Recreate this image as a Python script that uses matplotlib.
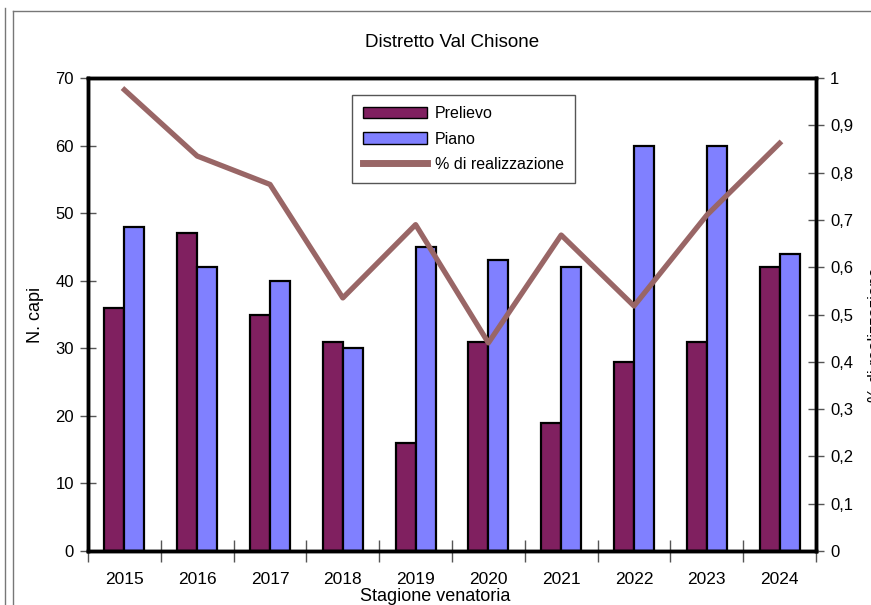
import numpy as np
import matplotlib
matplotlib.use('Agg')
import matplotlib.pyplot as plt
from matplotlib.patches import Patch
from matplotlib.lines import Line2D

plt.rcParams['font.family'] = ['Liberation Sans', 'DejaVu Sans']

anni = ['2015', '2016', '2017', '2018', '2019', '2020', '2021', '2022', '2023', '2024']
prelievo = [36, 47, 35, 31, 16, 31, 19, 28, 31, 42]
piano = [48, 42, 40, 30, 45, 43, 42, 60, 60, 44]
realizzazione = [0.975, 0.835, 0.775, 0.535, 0.69, 0.44, 0.668, 0.518, 0.71, 0.862]

c_prel = '#802060'
c_piano = '#8080FF'
c_line = '#996666'

fig = plt.figure(figsize=(8.71, 6.05), dpi=100)
ax = fig.add_axes([88/871, 1-551/605, (816-88)/871, (551-78)/605])
x = np.arange(len(anni))
w = 0.275

ax.bar(x - w/2, prelievo, w, color=c_prel, edgecolor='black', linewidth=1.6, zorder=2)
ax.bar(x + w/2, piano, w, color=c_piano, edgecolor='black', linewidth=1.6, zorder=2)

ax.set_xlim(-0.5, len(anni) - 0.5)
ax.set_ylim(0, 70)
ax.set_yticks(range(0, 71, 10))
ax.set_xticks(np.arange(-0.5, len(anni), 1))
ax.set_xticklabels([])
ax.set_xticks(x, minor=True)
ax.set_xticklabels(anni, minor=True)
ax.tick_params(axis='x', which='major', direction='inout', length=16, color='#555555', width=1)
ax.tick_params(axis='x', which='minor', length=0, pad=15, labelsize=12.5)
ax.tick_params(axis='y', direction='inout', length=12, color='#555555', width=1, labelsize=12, pad=4)
for s in ax.spines.values():
    s.set_linewidth(2.5)

ax2 = ax.twinx()
ax2.plot(x, realizzazione, color=c_line, linewidth=3.8, zorder=3)
ax2.set_ylim(0, 1)
ax2.set_yticks(np.arange(0, 1.01, 0.1))
ax2.set_yticklabels(['0'] + ['0,%d' % i for i in range(1, 10)] + ['1'])
ax2.tick_params(axis='y', direction='inout', length=12, color='#555555', width=1, labelsize=12, pad=4)
for s in ax2.spines.values():
    s.set_linewidth(2.5)

ax.set_title('Distretto Val Chisone', fontsize=13.5, pad=22)
ax.set_ylabel('N. capi', fontsize=13, labelpad=8)
fig.text(0.5, 0.0, 'Stagione venatoria', ha='center', va='bottom', fontsize=13)
# etichetta asse destro, tagliata dal bordo come nell'originale
fig.text(868/871, 1 - 335/605, '% di realizzazione', rotation=90, ha='left', va='center', fontsize=12)

handles = [Patch(facecolor=c_prel, edgecolor='black', linewidth=1),
           Patch(facecolor=c_piano, edgecolor='black', linewidth=1),
           Line2D([0], [0], color=c_line, linewidth=5)]
leg = ax.legend(handles, ['Prelievo', 'Piano', '% di realizzazione'],
                loc='upper left', bbox_to_anchor=(352/871, 1-95/605), bbox_transform=fig.transFigure,
                fancybox=False, edgecolor='#555555', framealpha=1, fontsize=11.5,
                handlelength=4.0, handleheight=0.7, borderpad=0.7, labelspacing=0.65,
                borderaxespad=0, handletextpad=0.5)
leg.get_frame().set_linewidth(1)
leg.set_zorder(10)

# cornice esterna
fig.add_artist(Line2D([5/871, 5/871], [0, 1 - 8/605], transform=fig.transFigure, color='#777777', lw=1))
fig.add_artist(Line2D([13/871, 13/871], [0, 1 - 11/605], transform=fig.transFigure, color='#777777', lw=1))
fig.add_artist(Line2D([13/871, 1], [1 - 11/605, 1 - 11/605], transform=fig.transFigure, color='#777777', lw=1))

fig.savefig('out.png', dpi=100)
